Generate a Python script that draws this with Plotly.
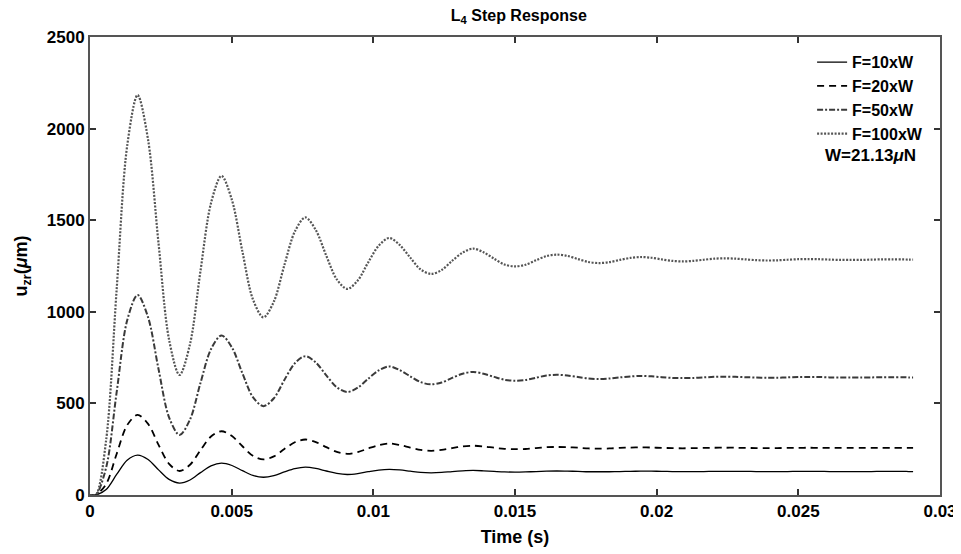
import plotly.graph_objects as go

# Time samples (s)
time_s = [0, 0.0002, 0.00057, 0.00094, 0.00131, 0.00168, 0.00205, 0.00242, 0.00279, 0.00316,
          0.00353, 0.00390, 0.00427, 0.00464, 0.00501, 0.00538, 0.00575, 0.00612, 0.00649, 0.00686,
          0.00723, 0.00760, 0.00797, 0.00834, 0.00871, 0.00908, 0.00945, 0.00982, 0.01019, 0.01056,
          0.01093, 0.01130, 0.01167, 0.01204, 0.01241, 0.01278, 0.01315, 0.01352, 0.01389, 0.01426,
          0.01463, 0.01500, 0.01537, 0.01574, 0.01611, 0.01648, 0.01685, 0.01722, 0.01759, 0.01796,
          0.01833, 0.01870, 0.01907, 0.01944, 0.01981, 0.02018, 0.02055, 0.02092, 0.02129, 0.02166,
          0.02203, 0.02240, 0.02277, 0.02314, 0.02351, 0.02388, 0.02425, 0.02462, 0.02499, 0.02536,
          0.02573, 0.02610, 0.02647, 0.02684, 0.02721, 0.02758, 0.02795, 0.02832, 0.02869, 0.02890,
          0.02905]

f10 = [0, 0, 30, 112, 190, 218, 194, 137, 85, 65,
       82, 122, 159, 174, 161, 133, 107, 97, 106, 126,
       144, 152, 145, 131, 118, 112, 117, 127, 136, 140,
       137, 130, 123, 121, 123, 128, 132, 134, 132, 129,
       126, 125, 126, 128, 130, 131, 130, 129, 127, 127,
       127, 128, 129, 130, 130, 129, 128, 128, 128, 128,
       129, 129, 129, 129, 128, 128, 128, 128, 129, 129,
       129, 128, 128, 128, 128, 128, 129, 129, 129, 128,
       128]

f20 = [0, 0, 60, 224, 381, 437, 388, 274, 170, 131,
       165, 245, 319, 348, 322, 266, 214, 194, 211, 251,
       288, 303, 289, 261, 235, 225, 234, 254, 272, 281,
       273, 259, 246, 241, 246, 256, 265, 269, 265, 258,
       252, 250, 251, 256, 261, 262, 261, 258, 254, 253,
       254, 257, 259, 260, 259, 257, 256, 255, 256, 257,
       258, 258, 258, 257, 256, 256, 256, 257, 257, 258,
       257, 257, 257, 257, 257, 257, 257, 257, 257, 257,
       257]

f50 = [0, 0, 150, 560, 952, 1092, 970, 686, 424, 328,
       412, 612, 796, 871, 805, 664, 534, 485, 528, 628,
       719, 758, 723, 653, 588, 562, 586, 635, 680, 702,
       682, 648, 616, 604, 614, 639, 662, 672, 662, 645,
       629, 624, 628, 640, 652, 656, 652, 644, 636, 633,
       636, 642, 647, 650, 648, 643, 639, 638, 639, 642,
       645, 646, 645, 643, 641, 640, 640, 642, 644, 644,
       644, 642, 642, 642, 642, 642, 643, 643, 643, 642,
       642]

f100 = [0, 0, 300, 1120, 1904, 2183, 1939, 1372, 848, 655,
        824, 1224, 1593, 1742, 1610, 1328, 1068, 970, 1056, 1255,
        1438, 1515, 1446, 1306, 1177, 1125, 1171, 1270, 1361, 1403,
        1365, 1296, 1231, 1207, 1228, 1278, 1323, 1345, 1325, 1290,
        1258, 1248, 1257, 1281, 1304, 1312, 1305, 1288, 1272, 1266,
        1271, 1283, 1294, 1299, 1295, 1286, 1278, 1275, 1278, 1284,
        1290, 1292, 1290, 1286, 1282, 1280, 1281, 1284, 1287, 1288,
        1287, 1285, 1283, 1283, 1283, 1285, 1286, 1286, 1286, 1285,
        1285]

series_names = ["F=10xW", "F=20xW", "F=50xW", "F=100xW"]
x_ticks = [0, 0.005, 0.01, 0.015, 0.02, 0.025, 0.03]
x_tick_text = ["0", "0.005", "0.01", "0.015", "0.02", "0.025", "0.03"]
y_ticks = [0, 500, 1000, 1500, 2000, 2500]

for s in (f10, f20, f50, f100):
    assert len(s) == len(time_s)

FONT = "Liberation Sans, Arial, sans-serif"

styles = [
    dict(color="#000000", width=1.3, dash="solid"),
    dict(color="#000000", width=1.8, dash="7px,5px"),
    dict(color="#3a3a3a", width=2.0, dash="6px,2px,2px,2px"),
    dict(color="#555555", width=2.2, dash="2px,1.5px"),
]

fig = go.Figure()
for name, ys, st in zip(series_names, [f10, f20, f50, f100], styles):
    fig.add_trace(go.Scatter(x=time_s, y=ys, mode="lines", name=name,
                             line=dict(shape="spline", smoothing=0.9, **st)))

axis_common = dict(
    showline=True, linecolor="#555555", linewidth=2, mirror="ticks",
    ticks="inside", ticklen=6, tickcolor="#333333", tickwidth=1.5,
    showgrid=False, zeroline=False, automargin=False,
    tickfont=dict(family=FONT, size=17, color="#000000", weight="bold"),
)

# The page body adds an 8px offset, so the figure is sized to fit the window.
fig.update_layout(
    width=953, height=546,
    paper_bgcolor="white", plot_bgcolor="white",
    margin=dict(l=82, r=21, t=29, b=59, autoexpand=False),
    title=dict(text="<b>L<sub>4</sub> Step Response</b>", x=0.536, xanchor="center",
               y=0.987, yanchor="middle", automargin=False,
               font=dict(family=FONT, size=16, color="#000000")),
    xaxis=dict(range=[0, 0.03], tickvals=x_ticks, ticktext=x_tick_text,
               title=dict(text="<b>Time (s)</b>", standoff=10,
                          font=dict(family=FONT, size=18, color="#000000")),
               **axis_common),
    yaxis=dict(range=[0, 2500], tickvals=y_ticks,
               title=dict(text="<b>u<sub>zr</sub>(<i>μ</i>m)</b>", standoff=14,
                          font=dict(family=FONT, size=18, color="#000000")),
               **axis_common),
    showlegend=True,
    legend=dict(x=0.986, y=0.982, xanchor="right", yanchor="top",
                bgcolor="rgba(0,0,0,0)", borderwidth=0,
                font=dict(family=FONT, size=16, color="#000000", weight="bold"),
                itemwidth=30, tracegroupgap=0),
    annotations=[dict(text="<b>W=21.13<i>μ</i>N</b>", xref="paper", yref="paper",
                      x=0.918, y=0.742, xanchor="center", yanchor="middle",
                      showarrow=False,
                      font=dict(family=FONT, size=17, color="#000000"))],
)

fig.write_html("out.html")
